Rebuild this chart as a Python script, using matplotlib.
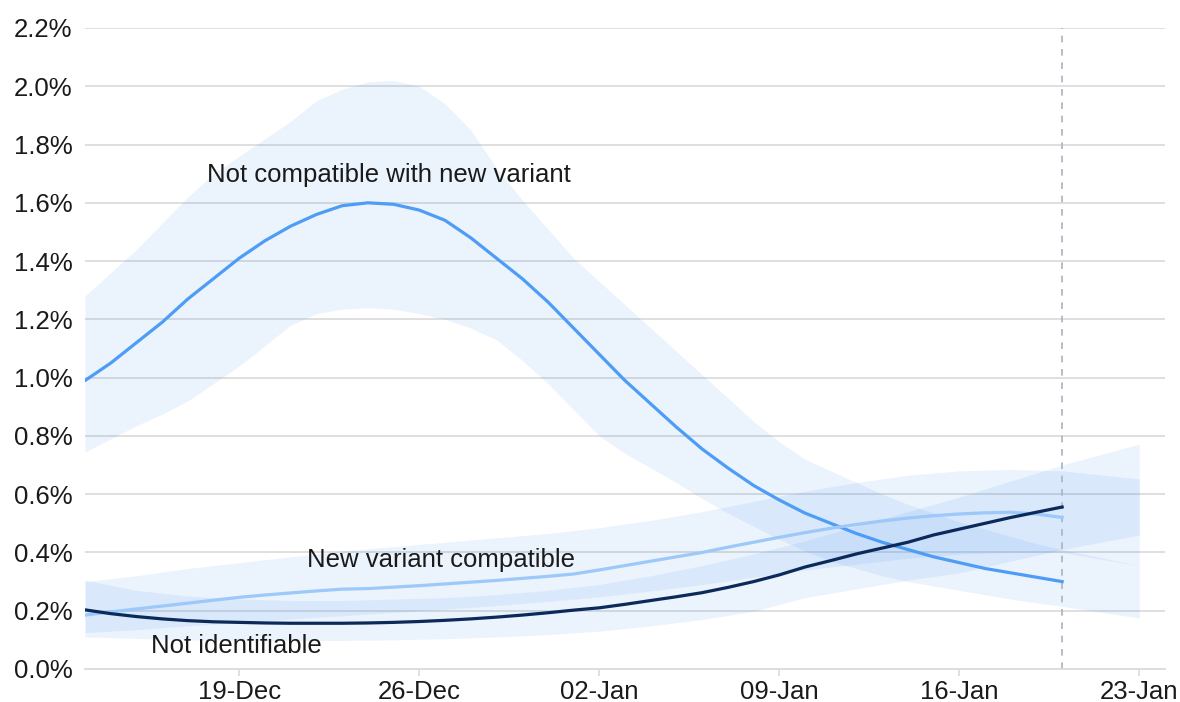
import matplotlib
matplotlib.use('Agg')
import matplotlib.pyplot as plt
import matplotlib.dates as mdates
from matplotlib.ticker import FuncFormatter
import pandas as pd

plt.rcParams['font.family'] = ['Liberation Sans', 'DejaVu Sans']

# daily estimates, 13-Dec-2020 to 20-Jan-2021 (percent)
line_dates = pd.date_range('2020-12-13', '2021-01-20', freq='D')

not_compatible = [0.99, 1.05, 1.12, 1.19, 1.27, 1.34, 1.41, 1.47, 1.52, 1.56,
                  1.59, 1.60, 1.595, 1.575, 1.54, 1.48, 1.41, 1.34, 1.26, 1.17,
                  1.08, 0.99, 0.91, 0.83, 0.755, 0.69, 0.63, 0.58, 0.535, 0.50,
                  0.465, 0.435, 0.41, 0.385, 0.365, 0.345, 0.33, 0.315, 0.30]

new_variant = [0.185, 0.196, 0.206, 0.216, 0.226, 0.236, 0.246, 0.254, 0.261, 0.268,
               0.274, 0.276, 0.281, 0.286, 0.292, 0.298, 0.304, 0.311, 0.318, 0.326,
               0.34, 0.355, 0.37, 0.385, 0.40, 0.418, 0.435, 0.452, 0.468, 0.483,
               0.496, 0.508, 0.518, 0.526, 0.532, 0.536, 0.538, 0.532, 0.52]

not_identifiable = [0.203, 0.19, 0.18, 0.172, 0.166, 0.162, 0.16, 0.158, 0.157, 0.157,
                    0.157, 0.158, 0.16, 0.163, 0.167, 0.172, 0.178, 0.185, 0.193, 0.202,
                    0.21, 0.222, 0.235, 0.248, 0.262, 0.28, 0.30, 0.323, 0.35, 0.372,
                    0.395, 0.415, 0.435, 0.46, 0.48, 0.50, 0.52, 0.538, 0.556]

# interval for "not compatible": daily to 20-Jan, then 23-Jan
nc_band_dates = line_dates.append(pd.DatetimeIndex(['2021-01-23']))
nc_low = [0.745, 0.79, 0.835, 0.875, 0.92, 0.98, 1.04, 1.11, 1.18, 1.22,
          1.235, 1.24, 1.235, 1.22, 1.20, 1.17, 1.13, 1.06, 0.98, 0.89,
          0.80, 0.74, 0.69, 0.64, 0.585, 0.535, 0.49, 0.445, 0.405, 0.37,
          0.345, 0.32, 0.30, 0.285, 0.27, 0.255, 0.24, 0.227, 0.215, 0.175]
nc_high = [1.28, 1.36, 1.44, 1.53, 1.62, 1.70, 1.76, 1.82, 1.88, 1.95,
           1.99, 2.015, 2.02, 2.00, 1.94, 1.85, 1.72, 1.61, 1.51, 1.41,
           1.33, 1.25, 1.17, 1.09, 1.01, 0.93, 0.85, 0.78, 0.72, 0.68,
           0.64, 0.60, 0.565, 0.535, 0.505, 0.48, 0.455, 0.43, 0.41, 0.354]

# intervals for the other two, every 2 days plus 23-Jan
band_dates = pd.to_datetime(['2020-12-13', '2020-12-15', '2020-12-17', '2020-12-19',
                             '2020-12-21', '2020-12-23', '2020-12-25', '2020-12-27',
                             '2020-12-29', '2020-12-31', '2021-01-02', '2021-01-04',
                             '2021-01-06', '2021-01-08', '2021-01-10', '2021-01-12',
                             '2021-01-14', '2021-01-16', '2021-01-18', '2021-01-20',
                             '2021-01-23'])

nv_low = [0.125, 0.135, 0.148, 0.16, 0.172, 0.183, 0.194, 0.205, 0.218, 0.232,
          0.248, 0.268, 0.29, 0.315, 0.34, 0.36, 0.38, 0.395, 0.40, 0.40, 0.354]
nv_high = [0.30, 0.32, 0.345, 0.365, 0.385, 0.405, 0.42, 0.435, 0.45, 0.465,
           0.485, 0.51, 0.54, 0.575, 0.61, 0.64, 0.665, 0.68, 0.685, 0.68, 0.652]

ni_low = [0.11, 0.105, 0.10, 0.098, 0.097, 0.098, 0.10, 0.104, 0.11, 0.118,
          0.13, 0.148, 0.17, 0.198, 0.245, 0.275, 0.305, 0.33, 0.37, 0.41, 0.46]
ni_high = [0.305, 0.27, 0.25, 0.24, 0.235, 0.235, 0.24, 0.245, 0.255, 0.27,
           0.29, 0.32, 0.355, 0.395, 0.44, 0.49, 0.54, 0.59, 0.645, 0.70, 0.772]

tick_dates = pd.to_datetime(['2020-12-19', '2020-12-26', '2021-01-02',
                             '2021-01-09', '2021-01-16', '2021-01-23'])
y_ticks = [0.0, 0.2, 0.4, 0.6, 0.8, 1.0, 1.2, 1.4, 1.6, 1.8, 2.0, 2.2]

band_color = '#3d8ef0'
c_mid = '#4d9df6'
c_light = '#9cc8fa'
c_dark = '#0b2a5a'
txt = '#1a1a1a'

fig = plt.figure(figsize=(11.8, 7.02), dpi=100)
ax = fig.add_axes([85 / 1180, 1 - 669 / 702, 1080 / 1180, (669 - 28) / 702])

ax.fill_between(nc_band_dates, nc_low, nc_high, color=band_color, alpha=0.1, lw=0, zorder=1)
ax.fill_between(band_dates, nv_low, nv_high, color=band_color, alpha=0.1, lw=0, zorder=1)
ax.fill_between(band_dates, ni_low, ni_high, color=band_color, alpha=0.1, lw=0, zorder=1)

ax.plot(line_dates, not_compatible, color=c_mid, lw=2.3, zorder=3)
ax.plot(line_dates, new_variant, color=c_light, lw=2.3, zorder=3)
ax.plot(line_dates, not_identifiable, color=c_dark, lw=2.3, zorder=4)

ax.axvline(pd.Timestamp('2021-01-20'), color='#a9b3c1', lw=1.2, ls=(0, (4, 4)), zorder=2)

ax.text(pd.Timestamp('2020-12-17 18:00'), 1.695, 'Not compatible with new variant',
        fontsize=18.5, color=txt, va='center', ha='left')
ax.text(pd.Timestamp('2020-12-21 15:00'), 0.374, 'New variant compatible',
        fontsize=18.5, color=txt, va='center', ha='left')
ax.text(pd.Timestamp('2020-12-15 14:00'), 0.079, 'Not identifiable',
        fontsize=18.5, color=txt, va='center', ha='left')

ax.set_xlim(pd.Timestamp('2020-12-13'), pd.Timestamp('2021-01-24'))
ax.set_ylim(0, 2.2)
ax.set_yticks(y_ticks)
ax.yaxis.set_major_formatter(FuncFormatter(lambda v, p: f'{v:.1f}%'))
ax.set_xticks(tick_dates)
ax.xaxis.set_major_formatter(mdates.DateFormatter('%d-%b'))

ax.grid(axis='y', color='#dcdcdc', lw=1.3, zorder=0)
ax.set_axisbelow(True)
for s in ['top', 'right', 'left']:
    ax.spines[s].set_visible(False)
ax.spines['bottom'].set_color('#dcdcdc')
ax.spines['bottom'].set_linewidth(1.3)
ax.tick_params(axis='y', length=0, pad=9, labelsize=18.5, labelcolor=txt)
ax.tick_params(axis='x', length=5, color='#dcdcdc', width=1.2, pad=3,
               labelsize=18.5, labelcolor=txt)

fig.savefig('out.png', dpi=100)
